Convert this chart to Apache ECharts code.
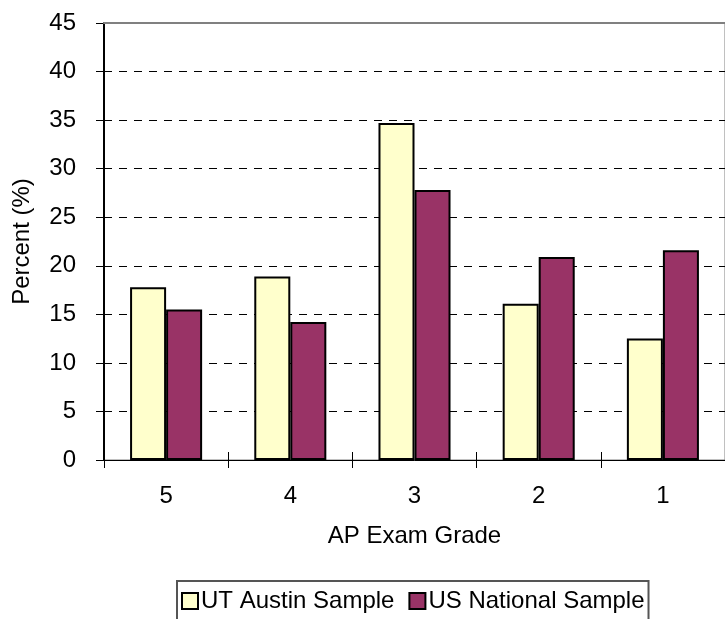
<!DOCTYPE html>
<html>
<head>
<meta charset="utf-8">
<script src="https://cdn.jsdelivr.net/npm/echarts@6/dist/echarts.min.js"></script>
<style>
  html, body { margin: 0; padding: 0; background: #fff; }
  #chart { width: 725px; height: 619px; }
</style>
</head>
<body>
<div id="chart"></div>
<script>
// AP exam grade distribution: UT Austin sample vs. US national sample
const grades = ['5', '4', '3', '2', '1'];
const utAustin = [17.8, 18.9, 34.7, 16.1, 12.5];
const usNational = [15.5, 14.2, 27.8, 20.9, 21.6];
const seriesNames = ['UT Austin Sample', 'US National Sample'];
const yTicks = { min: 0, max: 45, step: 5 };

const FONT = '"Liberation Sans", Arial, sans-serif';
const FS = 24;
const chart = echarts.init(document.getElementById('chart'));

const barStyle = (color) => ({ color: color, borderColor: '#000', borderWidth: 2 });

chart.setOption({
  animation: false,
  textStyle: { fontFamily: FONT, color: '#000' },
  grid: {
    left: 104, top: 23, width: 624, height: 437,
    show: true, borderColor: '#808080', borderWidth: 1
  },
  xAxis: [
    {
      type: 'category', data: grades, position: 'bottom',
      name: 'AP Exam Grade', nameLocation: 'middle', nameGap: 64,
      nameTextStyle: { fontSize: FS, color: '#000', fontFamily: FONT },
      axisLine: { lineStyle: { color: '#000', width: 1 } },
      axisTick: { show: true, inside: false, length: 8, lineStyle: { color: '#000' } },
      axisLabel: { fontSize: FS, color: '#000', margin: 24, fontFamily: FONT },
      splitLine: { show: false }
    },
    {
      // inner half of the crossing category ticks
      type: 'category', data: grades, position: 'bottom', offset: 0,
      axisLine: { show: false },
      axisTick: { show: true, inside: true, length: 8, lineStyle: { color: '#000' } },
      axisLabel: { show: false },
      splitLine: { show: false }
    },
    {
      // gray top border of the plot area
      type: 'category', data: grades, position: 'top', offset: 0,
      axisLine: { show: true, lineStyle: { color: '#808080', width: 2 } },
      axisTick: { show: false }, axisLabel: { show: false }, splitLine: { show: false },
      z: 5
    }
  ],
  yAxis: [
    {
      type: 'value', min: yTicks.min, max: yTicks.max, interval: yTicks.step,
      name: 'Percent (%)', nameLocation: 'middle', nameGap: 70, nameRotate: 90,
      nameTextStyle: { fontSize: FS, color: '#000', fontFamily: FONT },
      axisLine: { show: true, lineStyle: { color: '#000', width: 2 } },
      axisTick: { show: true, inside: false, length: 8, lineStyle: { color: '#000' } },
      axisLabel: { fontSize: FS, color: '#000', margin: 28, fontFamily: FONT },
      splitLine: { show: true, lineStyle: { color: '#000', type: [8, 7], width: 1 } }
    },
    {
      // inner half of the crossing value ticks
      type: 'value', min: yTicks.min, max: yTicks.max, interval: yTicks.step,
      position: 'left', offset: 0,
      axisLine: { show: false },
      axisTick: { show: true, inside: true, length: 6, lineStyle: { color: '#000' } },
      axisLabel: { show: false }, splitLine: { show: false }
    }
  ],
  legend: {
    left: 177, top: 581,
    padding: [8, 4, 20, 4],
    borderColor: '#555', borderWidth: 2,
    itemWidth: 16, itemHeight: 16, itemGap: 14,
    icon: 'rect',
    textStyle: { fontSize: FS, color: '#000', fontFamily: FONT, padding: [0, 0, 0, -2] },
    data: seriesNames
  },
  series: [
    {
      name: seriesNames[0], type: 'bar', data: utAustin,
      barGap: '0%', barCategoryGap: '42%',
      itemStyle: barStyle('#FFFFCC')
    },
    {
      name: seriesNames[1], type: 'bar', data: usNational,
      barGap: '0%', barCategoryGap: '42%',
      itemStyle: barStyle('#993366')
    }
  ]
});
</script>
</body>
</html>
